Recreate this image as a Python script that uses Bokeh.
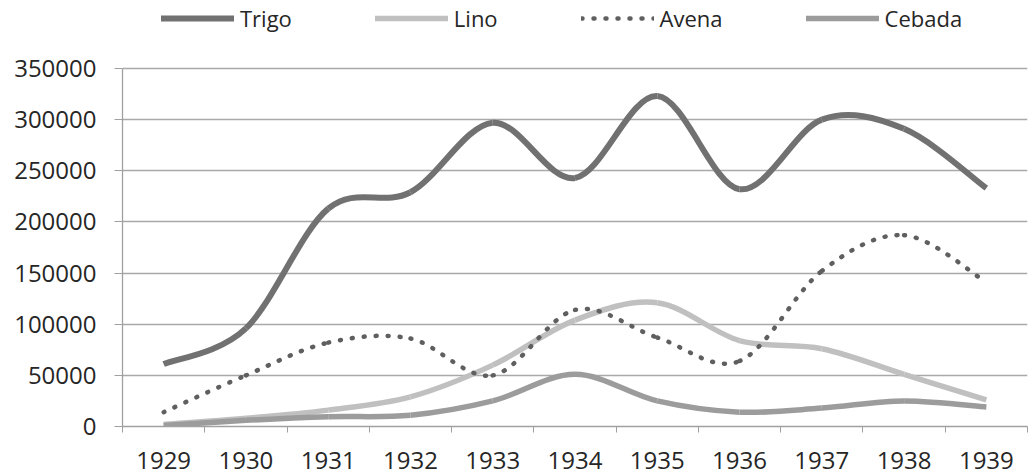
from bokeh.plotting import figure
from bokeh.models import (ColumnDataSource, FixedTicker, Legend, LegendItem,
                          NumeralTickFormatter, Range1d)
from bokeh.embed import file_html
from bokeh.resources import INLINE

years = [1929, 1930, 1931, 1932, 1933, 1934, 1935, 1936, 1937, 1938, 1939]
trigo = [61000, 96000, 213000, 229000, 297000, 243000, 323000, 232000, 300000, 291000, 233000]
lino = [2000, 8000, 16000, 29000, 60000, 104000, 121000, 84000, 76000, 51000, 26000]
avena = [14000, 50000, 82000, 86000, 50000, 114000, 87000, 64000, 152000, 187000, 141000]
cebada = [1000, 6000, 9500, 11000, 25000, 51000, 25000, 14000, 18000, 25000, 19000]
y_ticks = [0, 50000, 100000, 150000, 200000, 250000, 300000, 350000]

FONT = "Open Sans"
TEXT = "#262626"

# layout: value axis 0..350000 spans 358 px; 68 px of head room above it
# (inside the frame) hold the legend.
Y_MAX = 350000
Y_TOP = Y_MAX + 68 * Y_MAX / 358.0


def smooth_source(xs, ys, t=1.0 / 6.0):
    """Excel-like smoothed line: cubic Bezier control points from the data."""
    n = len(xs)
    d = dict(x0=[], y0=[], x1=[], y1=[], cx0=[], cy0=[], cx1=[], cy1=[])
    for i in range(n - 1):
        a = i - 1 if i > 0 else i
        b = i + 2 if i + 2 < n else i + 1
        d["x0"].append(xs[i]); d["y0"].append(ys[i])
        d["x1"].append(xs[i + 1]); d["y1"].append(ys[i + 1])
        d["cx0"].append(xs[i] + (xs[i + 1] - xs[a]) * t)
        d["cy0"].append(ys[i] + (ys[i + 1] - ys[a]) * t)
        d["cx1"].append(xs[i + 1] - (xs[b] - xs[i]) * t)
        d["cy1"].append(ys[i + 1] - (ys[b] - ys[i]) * t)
    return ColumnDataSource(d)


p = figure(width=1029, height=475, output_backend="svg", toolbar_location=None,
           x_range=Range1d(years[0] - 0.5, years[-1] + 0.5),
           y_range=Range1d(0, Y_TOP),
           min_border_left=122, min_border_right=2,
           min_border_top=0, min_border_bottom=49)
p.outline_line_color = None
p.background_fill_color = "white"
p.xgrid.grid_line_color = None
p.ygrid.grid_line_color = "#a9a9a9"
p.ygrid.grid_line_width = 1.3

# axes
p.yaxis.ticker = FixedTicker(ticks=y_ticks)
p.yaxis.bounds = (0, Y_MAX)
p.yaxis.formatter = NumeralTickFormatter(format="0")
p.yaxis.axis_line_color = "#a0a0a0"
p.yaxis.axis_line_width = 1.3
p.yaxis.major_tick_line_color = "#a0a0a0"
p.yaxis.major_tick_out = 8
p.yaxis.major_tick_in = 0
p.yaxis.minor_tick_line_color = None
p.yaxis.major_label_standoff = 18
p.yaxis.major_label_text_font = FONT
p.yaxis.major_label_text_font_size = "24px"
p.yaxis.major_label_text_color = TEXT

p.xaxis.ticker = FixedTicker(ticks=years,
                             minor_ticks=[y - 0.5 for y in years] + [years[-1] + 0.5])
p.xaxis.major_label_overrides = {y: str(y) for y in years}
p.xaxis.axis_line_color = "#a0a0a0"
p.xaxis.axis_line_width = 1.3
p.xaxis.major_tick_line_color = None
p.xaxis.major_tick_out = 0
p.xaxis.major_tick_in = 0
p.xaxis.minor_tick_line_color = "#a0a0a0"
p.xaxis.minor_tick_out = 6
p.xaxis.minor_tick_in = 0
p.xaxis.major_label_standoff = 19
p.xaxis.major_label_text_font = FONT
p.xaxis.major_label_text_font_size = "24px"
p.xaxis.major_label_text_color = TEXT

series = [
    ("Trigo", trigo, "#717171", 6, "solid", "butt"),
    ("Lino", lino, "#c0c0c0", 5.5, "solid", "butt"),
    ("Avena", avena, "#5f5f5f", 4.5, "1 11", "round"),
    ("Cebada", cebada, "#9c9c9c", 5.5, "solid", "butt"),
]

items = []
for name, vals, col, w, dash, cap in series:
    src = smooth_source(years, vals)
    p.bezier(x0="x0", y0="y0", x1="x1", y1="y1", cx0="cx0", cy0="cy0",
             cx1="cx1", cy1="cy1", source=src, line_color=col, line_width=w,
             line_dash=dash, line_cap=cap)
    # legend proxy: a single point (draws nothing in the plot itself)
    proxy = p.line(x=years[:1], y=vals[:1], line_color=col, line_width=w,
                   line_dash=dash, line_cap="round")
    items.append(LegendItem(label=name, renderers=[proxy]))

legend = Legend(items=items, orientation="horizontal", location=(39, 393),
                glyph_width=73, glyph_height=20, label_standoff=6, spacing=83,
                padding=0, margin=0, border_line_alpha=0, background_fill_alpha=0,
                label_text_font=FONT, label_text_font_size="22px",
                label_text_color=TEXT)
p.add_layout(legend, "center")

open("out.html", "w").write(file_html(p, INLINE))
